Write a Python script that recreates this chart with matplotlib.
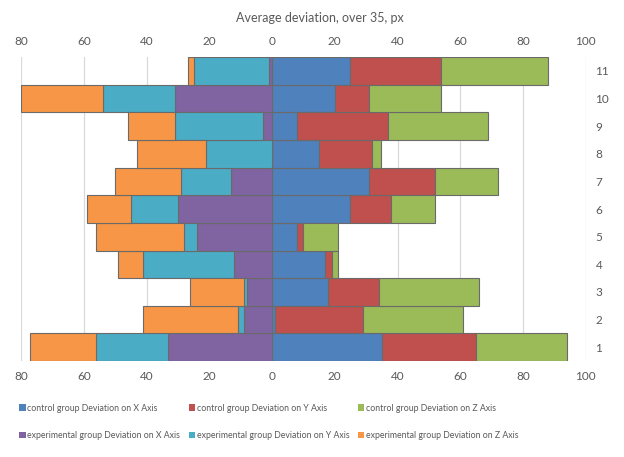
import numpy as np
import matplotlib.pyplot as plt
from matplotlib.ticker import FuncFormatter
from matplotlib.patches import Patch

plt.rcParams['font.family'] = ['Lato', 'DejaVu Sans']

# measurement rows (1 at the bottom)
rows = np.arange(1, 12)

# control group, drawn to the right of zero
ctrl_x = [35, 1, 18, 17, 8, 25, 31, 15, 8, 20, 25]
ctrl_y = [30, 28, 16, 2, 2, 13, 21, 17, 29, 11, 29]
ctrl_z = [29, 32, 32, 2, 11, 14, 20, 2.6, 32, 23, 34]

# experimental group, drawn to the left of zero
exp_x = [33, 9, 8, 12, 24, 30, 13, 0, 3, 31, 1]
exp_y = [23, 2, 1, 29, 4, 15, 16, 21, 28, 23, 24]
exp_z = [21, 30, 17, 8, 28, 14, 21, 22, 15, 26, 1.7]

labels_ctrl = ["control group Deviation on X Axis",
               "control group Deviation on Y Axis",
               "control group Deviation on Z Axis"]
labels_exp = ["experimental group Deviation on X Axis",
              "experimental group Deviation on Y Axis",
              "experimental group Deviation on Z Axis"]

colors_ctrl = ["#4F81BD", "#C0504D", "#9BBB59"]
colors_exp = ["#8064A2", "#4BACC6", "#F79646"]

xticks = [-80, -60, -40, -20, 0, 20, 40, 60, 80, 100]

fig = plt.figure(figsize=(6.24, 4.57), dpi=100)
ax = fig.add_axes([0.0337, 0.21, 0.905, 0.665])

edge = dict(edgecolor="#6a6a6a", linewidth=0.8, height=1.0, zorder=3)

left = np.zeros(len(rows))
for vals, col in zip([ctrl_x, ctrl_y, ctrl_z], colors_ctrl):
    vals = np.array(vals, dtype=float)
    ax.barh(rows, vals, left=left, color=col, **edge)
    left += vals

left = np.zeros(len(rows))
for vals, col in zip([exp_x, exp_y, exp_z], colors_exp):
    vals = np.array(vals, dtype=float)
    ax.barh(rows, -vals, left=-left, color=col, **edge)
    left += vals

ax.set_xlim(-80, 100)
ax.set_ylim(0.5, 11.5)
ax.set_xticks(xticks)
ax.xaxis.set_major_formatter(FuncFormatter(lambda v, p: "%d" % abs(v)))
ax.set_yticks(rows)
ax.yaxis.tick_right()
ax.tick_params(axis="x", length=0, pad=7, labelsize=8.5, colors="#595959",
               labeltop=True, labelbottom=True)
ax.tick_params(axis="y", length=0, pad=7, labelsize=8.5, colors="#595959")
ax.grid(axis="x", color="#d9d9d9", linewidth=0.9, zorder=0)
for s in ax.spines.values():
    s.set_visible(False)

fig.text(0.513, 0.96, "Average deviation, over 35, px", ha="center",
         va="center", fontsize=9, color="#595959")

handles = []
for c1, l1, c2, l2 in zip(colors_ctrl, labels_ctrl, colors_exp, labels_exp):
    handles.append(Patch(facecolor=c1, label=l1))
    handles.append(Patch(facecolor=c2, label=l2))
fig.legend(handles=handles, ncol=3, loc="lower left",
           bbox_to_anchor=(0.018, 0.02), frameon=False, fontsize=6.3,
           labelcolor="#595959", handlelength=0.75, handleheight=0.75,
           handletextpad=0.2, labelspacing=2.1, columnspacing=0.95)

fig.savefig("out.png", dpi=100)
